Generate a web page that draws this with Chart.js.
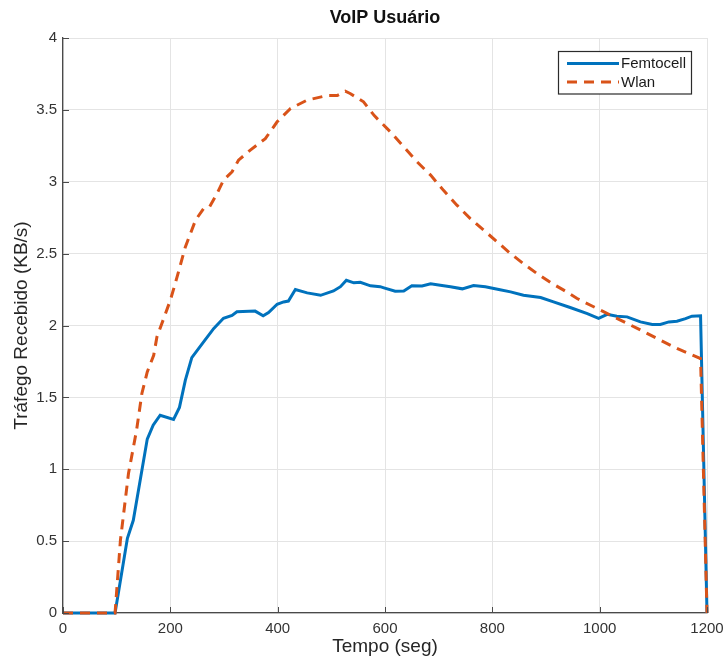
<!DOCTYPE html>
<html>
<head>
<meta charset="utf-8">
<script src="https://cdn.jsdelivr.net/npm/chart.js@4"></script>
<style>
  html, body { margin: 0; padding: 0; background: #fff; }
  #wrap { width: 725px; height: 663px; }
</style>
</head>
<body>
<div id="wrap"><canvas id="voipChart" width="725" height="663"></canvas></div>
<script>
// data (time in s, rate in KB/s)
const femtoTime = [0, 97, 120, 131, 157, 168, 181, 206, 217, 228, 240, 262, 281, 299, 315, 324, 358, 373, 383, 399, 411, 420, 433, 455, 480, 504, 517, 528, 542, 554, 573, 591, 598, 619, 635, 650, 669, 685, 703, 722, 744, 765, 787, 812, 834, 858, 890, 914, 945, 977, 998, 1014, 1032, 1051, 1076, 1098, 1113, 1129, 1144, 1160, 1172, 1188, 1200];
const femtoRate = [0, 0, 0.52, 0.645, 1.21, 1.306, 1.376, 1.346, 1.43, 1.62, 1.777, 1.886, 1.98, 2.05, 2.07, 2.095, 2.10, 2.067, 2.09, 2.148, 2.164, 2.17, 2.25, 2.227, 2.21, 2.24, 2.27, 2.315, 2.297, 2.30, 2.276, 2.27, 2.262, 2.239, 2.24, 2.276, 2.275, 2.29, 2.28, 2.27, 2.255, 2.278, 2.27, 2.25, 2.234, 2.21, 2.195, 2.164, 2.125, 2.083, 2.05, 2.078, 2.065, 2.06, 2.025, 2.007, 2.007, 2.025, 2.03, 2.048, 2.065, 2.068, 0];

const wlanTime = [0, 97, 107, 122, 137, 147, 157, 169, 175, 191, 200, 209, 228, 247, 262, 273, 287, 299, 315, 327, 349, 377, 399, 424, 455, 492, 511, 526, 535, 560, 580, 610, 635, 660, 685, 709, 734, 759, 784, 809, 834, 858, 883, 908, 933, 958, 983, 1008, 1032, 1070, 1107, 1144, 1188, 1200];
const wlanRate = [0, 0, 0.506, 0.97, 1.27, 1.527, 1.677, 1.793, 1.92, 2.083, 2.176, 2.29, 2.547, 2.733, 2.814, 2.825, 2.918, 3.011, 3.069, 3.15, 3.22, 3.30, 3.417, 3.51, 3.568, 3.60, 3.60, 3.63, 3.614, 3.556, 3.46, 3.347, 3.243, 3.138, 3.046, 2.94, 2.837, 2.744, 2.663, 2.582, 2.50, 2.43, 2.362, 2.30, 2.246, 2.188, 2.141, 2.095, 2.05, 1.98, 1.91, 1.84, 1.77, 0];

const seriesNames = ['Femtocell', 'Wlan'];
const chartTitle = 'VoIP Usuário';
const xLabel = 'Tempo (seg)';
const yLabel = 'Tráfego Recebido (KB/s)';

const FONT = "'Liberation Sans', Arial, Helvetica, sans-serif";
const BLUE = '#0072BD';
const ORANGE = '#D95319';
const WLAN_DASH = [10, 7];

const toPoints = (xs, ys) => xs.map((x, i) => ({ x: x, y: ys[i] }));

// matlab-ish title over the axes, inward ticks, legend box in the upper right
const matlabExtras = {
	id: 'matlabExtras',
	afterDraw(chart) {
		const ctx = chart.ctx;
		const area = chart.chartArea;
		const xs = chart.scales.x;
		const ys = chart.scales.y;

		ctx.save();
		ctx.fillStyle = '#111';
		ctx.font = 'bold 18px ' + FONT;
		ctx.textAlign = 'center';
		ctx.textBaseline = 'middle';
		ctx.fillText(chartTitle, (area.left + area.right) / 2, 18);

		ctx.strokeStyle = '#4a4a4a';
		ctx.lineWidth = 1;
		ys.ticks.forEach(t => {
			const py = Math.round(ys.getPixelForValue(t.value)) + 0.5;
			ctx.beginPath();
			ctx.moveTo(area.left, py);
			ctx.lineTo(area.left + 6, py);
			ctx.stroke();
		});
		xs.ticks.forEach(t => {
			const px = Math.round(xs.getPixelForValue(t.value)) + 0.5;
			ctx.beginPath();
			ctx.moveTo(px, area.bottom);
			ctx.lineTo(px, area.bottom - 6);
			ctx.stroke();
		});

		// legend
		const bx = 558.5, by = 51.5, bw = 133, bh = 42.5;
		ctx.fillStyle = '#fff';
		ctx.fillRect(bx, by, bw, bh);
		ctx.strokeStyle = '#2b2b2b';
		ctx.lineWidth = 1.2;
		ctx.strokeRect(bx, by, bw, bh);

		const rows = [63.5, 82];
		chart.data.datasets.forEach((ds, i) => {
			ctx.beginPath();
			ctx.strokeStyle = ds.borderColor;
			ctx.lineWidth = 3;
			ctx.setLineDash(ds.borderDash || []);
			ctx.moveTo(567, rows[i]);
			ctx.lineTo(619, rows[i]);
			ctx.stroke();
			ctx.setLineDash([]);
			ctx.fillStyle = '#1a1a1a';
			ctx.font = '15px ' + FONT;
			ctx.textBaseline = 'middle';
			ctx.textAlign = 'left';
			ctx.fillText(ds.label, 621, rows[i] + 0.5);
		});
		ctx.restore();
	}
};

const ctx = document.getElementById('voipChart').getContext('2d');
const voipChart = new Chart(ctx, {
	type: 'line',
	data: {
		datasets: [{
			label: seriesNames[0],
			data: toPoints(femtoTime, femtoRate),
			borderColor: BLUE,
			borderWidth: 3,
			pointRadius: 0,
			tension: 0,
			fill: false,
			clip: 4,
			order: 1
		}, {
			label: seriesNames[1],
			data: toPoints(wlanTime, wlanRate),
			borderColor: ORANGE,
			borderWidth: 3,
			borderDash: WLAN_DASH,
			pointRadius: 0,
			tension: 0,
			fill: false,
			clip: 4,
			order: 0
		}]
	},
	options: {
		responsive: false,
		animation: false,
		events: [],
		layout: { padding: { left: 0, right: 18, top: 38, bottom: 0 } },
		scales: {
			x: {
				type: 'linear',
				min: 0,
				max: 1200,
				afterFit: s => { s.height = 50; s.paddingLeft = 0; s.paddingRight = 0; },
				ticks: {
					stepSize: 200,
					padding: 7,
					color: '#333',
					font: { family: FONT, size: 15 },
					maxRotation: 0,
					callback: v => String(v)
				},
				grid: { color: '#e4e4e4', lineWidth: 1, drawTicks: false },
				border: { color: '#4a4a4a', width: 1.3 },
				title: {
					display: true,
					text: xLabel,
					color: '#262626',
					font: { family: FONT, size: 19 },
					padding: { top: 0, bottom: 5 }
				}
			},
			y: {
				type: 'linear',
				min: 0,
				max: 4,
				afterFit: s => { s.width = 63; s.paddingTop = 0; s.paddingBottom = 0; },
				ticks: {
					stepSize: 0.5,
					padding: 6,
					color: '#333',
					font: { family: FONT, size: 15 },
					callback: v => String(v)
				},
				grid: { color: '#e4e4e4', lineWidth: 1, drawTicks: false },
				border: { color: '#4a4a4a', width: 1.3 },
				title: {
					display: true,
					text: yLabel,
					color: '#262626',
					font: { family: FONT, size: 19 },
					padding: { top: 10, bottom: 0 }
				}
			}
		},
		plugins: {
			legend: { display: false },
			tooltip: { enabled: false },
			title: { display: false }
		}
	},
	plugins: [matlabExtras]
});
</script>
</body>
</html>
